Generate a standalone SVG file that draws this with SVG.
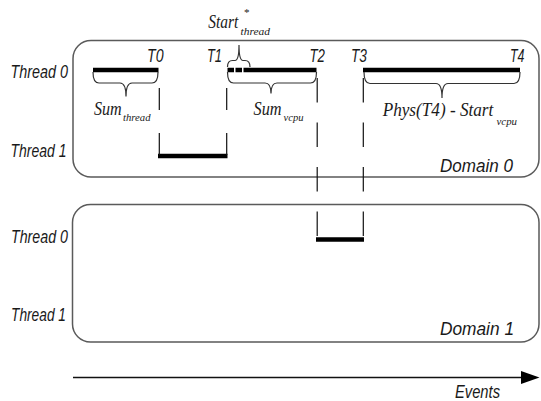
<svg xmlns="http://www.w3.org/2000/svg" width="541" height="401" viewBox="0 0 541 401">
<defs>
<style>
.box{fill:none;stroke:#5a5a5a;stroke-width:1.5}
.lbl{font-family:"Liberation Sans",Arial,sans-serif;font-style:italic;fill:#1a1a1a;font-size:17.5px}
.ser{font-family:"Liberation Serif","Times New Roman",serif;font-style:italic;fill:#1a1a1a;font-size:19.5px}
.sub{font-family:"Liberation Serif","Times New Roman",serif;font-style:italic;fill:#1a1a1a;font-size:11px}
.bar{stroke:#000;stroke-width:4.5;fill:none}
.brace{stroke:#333;stroke-width:1.2;fill:none}
.vd{stroke:#111;stroke-width:1.2;fill:none}
</style>
</defs>
<rect width="541" height="401" fill="#fff"/>

<g id="domain0">
<rect class="box" x="73" y="40.5" width="466" height="136.5" rx="18"/>
<text class="lbl" x="440" y="171.5" font-size="18.5" textLength="73" lengthAdjust="spacingAndGlyphs">Domain 0</text>
</g>
<g id="domain1">
<rect class="box" x="72.5" y="204.5" width="466.5" height="137.5" rx="18"/>
<text class="lbl" x="440" y="335" font-size="18.5" textLength="74" lengthAdjust="spacingAndGlyphs">Domain 1</text>
</g>

<g id="thread-labels">
<text class="lbl" x="10.5" y="78" textLength="57.5" lengthAdjust="spacingAndGlyphs">Thread 0</text>
<text class="lbl" x="10.5" y="156.5" textLength="56" lengthAdjust="spacingAndGlyphs">Thread 1</text>
<text class="lbl" x="11" y="242.5" textLength="57" lengthAdjust="spacingAndGlyphs">Thread 0</text>
<text class="lbl" x="11" y="320.5" textLength="55" lengthAdjust="spacingAndGlyphs">Thread 1</text>
</g>

<g id="time-labels">
<text class="lbl" x="147" y="61.5" textLength="16.5" lengthAdjust="spacingAndGlyphs">T0</text>
<text class="lbl" x="207" y="61.5" textLength="15" lengthAdjust="spacingAndGlyphs">T1</text>
<text class="lbl" x="309.5" y="62" textLength="15.5" lengthAdjust="spacingAndGlyphs">T2</text>
<text class="lbl" x="351" y="62" textLength="16" lengthAdjust="spacingAndGlyphs">T3</text>
<text class="lbl" x="510" y="62" textLength="14.5" lengthAdjust="spacingAndGlyphs">T4</text>
</g>

<g id="bars">
<line class="bar" x1="93" y1="70" x2="158.5" y2="70"/>
<line class="bar" x1="227.5" y1="70" x2="250" y2="70" stroke-dasharray="6.5 1.5"/>
<line class="bar" x1="250" y1="70" x2="316.5" y2="70"/>
<line class="bar" x1="363" y1="70" x2="520" y2="70"/>
<line class="bar" x1="158" y1="156" x2="227.5" y2="156"/>
<line class="bar" x1="316" y1="239.5" x2="364" y2="239.5"/>
</g>

<g id="connectors">
<line class="vd" x1="159.3" y1="88" x2="159.3" y2="156" stroke-dasharray="22 23"/>
<line class="vd" x1="226.7" y1="88" x2="226.7" y2="156" stroke-dasharray="22 23"/>
<line class="vd" x1="317.2" y1="78" x2="317.2" y2="238" stroke-dasharray="24.5 20"/>
<line class="vd" x1="363.3" y1="78" x2="363.3" y2="238" stroke-dasharray="24.5 20"/>
<line x1="73" y1="377.5" x2="523" y2="377.5" stroke="#111" stroke-width="1.5"/>
<polygon points="521,371 539.5,377.5 521,384" fill="#000"/>
</g>

<g id="braces">
<path class="brace" d="M93,72 Q93,83 99,83 L120,83 Q126,83 126,96.5 Q126,83 132,83 L152,83 Q158,83 158,72"/>
<path class="brace" d="M227.5,72 Q227.5,83 233.5,83 L265,83 Q271,83 271,93.5 Q271,83 277,83 L310.5,83 Q316.5,83 316.5,72"/>
<path class="brace" d="M364,72 Q364,83.5 370,83.5 L436,83.5 Q442,83.5 442,98 Q442,83.5 448,83.5 L514,83.5 Q520,83.5 520,72"/>
<path class="brace" d="M227.5,67 Q227.5,60.5 232.5,60.5 L235,60.5 Q239,60.5 239,45 Q239,60.5 243,60.5 L245,60.5 Q250,60.5 250,67"/>
</g>

<g id="brace-labels">
<text class="ser" x="94" y="114.5" textLength="27.7" lengthAdjust="spacingAndGlyphs">Sum</text>
<text class="sub" x="123" y="120.5" textLength="27.5" lengthAdjust="spacingAndGlyphs">thread</text>
<text class="ser" x="253.5" y="115" textLength="28" lengthAdjust="spacingAndGlyphs">Sum</text>
<text class="sub" x="283.5" y="121" textLength="20" lengthAdjust="spacingAndGlyphs">vcpu</text>
<text class="ser" x="382.7" y="115.5" textLength="110.6" lengthAdjust="spacingAndGlyphs">Phys(T4) - Start</text>
<text class="sub" x="496.5" y="124.5" textLength="20.5" lengthAdjust="spacingAndGlyphs">vcpu</text>
<text class="ser" x="208.3" y="28" textLength="30" lengthAdjust="spacingAndGlyphs">Start</text>
<text class="sub" x="243.5" y="15.5" font-size="9">*</text>
<text class="sub" x="240.5" y="35" textLength="29.5" lengthAdjust="spacingAndGlyphs">thread</text>
</g>

<g id="axis-label">
<text class="lbl" x="455" y="398" font-size="17" textLength="45" lengthAdjust="spacingAndGlyphs">Events</text>
</g>
</svg>
